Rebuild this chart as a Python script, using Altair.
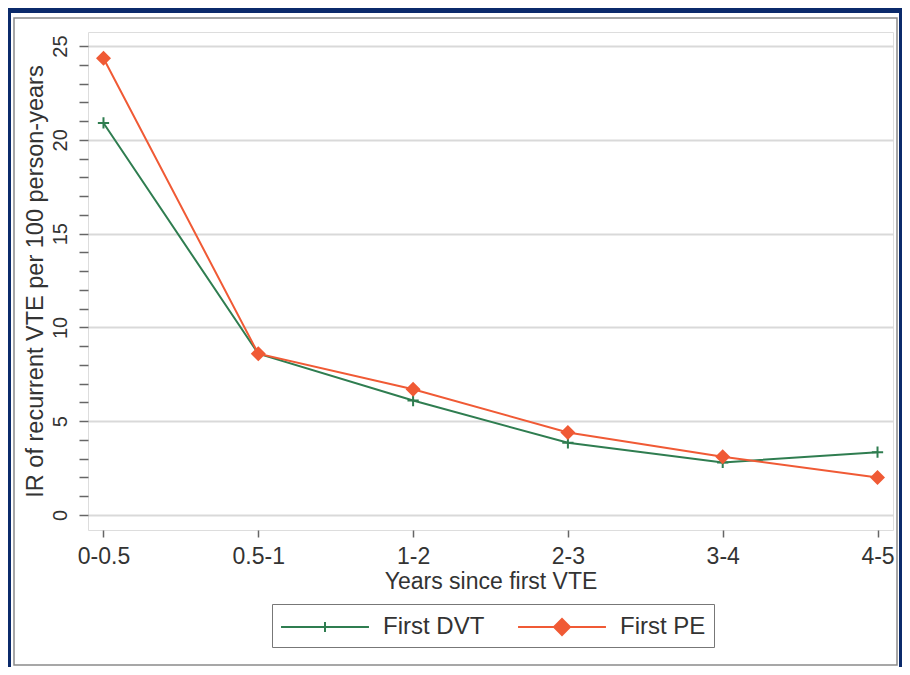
import altair as alt
import pandas as pd

# ---- data ----
periods = ["0-0.5", "0.5-1", "1-2", "2-3", "3-4", "4-5"]
first_dvt = [20.9, 8.6, 6.1, 3.85, 2.8, 3.35]
first_pe = [24.35, 8.6, 6.7, 4.4, 3.1, 2.0]
series_names = ["First DVT", "First PE"]
series_colors = ["#2f7d50", "#f05a35"]
tick_values = list(range(0, 26))

df = pd.DataFrame({
    "period": periods * 2,
    "value": first_dvt + first_pe,
    "series": [series_names[0]] * len(periods) + [series_names[1]] * len(periods),
})
one_df = pd.DataFrame({"k": [0]})

FONT = "Liberation Sans"
W, H = 805, 498
PAD = {"left": 80, "top": 24, "right": 9, "bottom": 137}
Y_DOMAIN = [-0.8, 25.75]

PLUS = "M-0.75,0H0.75M0,-0.75V0.75"
LEG_DVT = "M-3.14,0H3.14M0,-0.36V0.36"
LEG_PE = "M-3.14,0H3.14M-0.57,0L0,-0.57L0.57,0L0,0.57Z"

legend = alt.Legend(
    title=None,
    orient="none",
    legendX=184,
    legendY=572,
    direction="horizontal",
    symbolSize=784,
    symbolOffset=30,
    symbolStrokeWidth=2,
    labelOffset=43,
    columnPadding=29,
    padding=8,
    strokeColor="#777",
    labelFont=FONT,
    labelFontSize=24,
    labelColor="#333",
)

x_enc = alt.X(
    "period:N",
    sort=periods,
    scale=alt.Scale(type="point", domain=periods, padding=0.1),
    axis=alt.Axis(
        title="Years since first VTE",
        labelAngle=0,
        labelFont=FONT,
        labelFontSize=23,
        labelColor="#333",
        titleFont=FONT,
        titleFontSize=23,
        titleFontWeight="normal",
        titleColor="#333",
        tickSize=7,
        tickColor="#666",
        tickWidth=1.5,
        labelPadding=8,
        titlePadding=2,
        domain=False,
        grid=False,
    ),
)
y_enc = alt.Y(
    "value:Q",
    scale=alt.Scale(domain=Y_DOMAIN, nice=False, zero=False),
    axis=alt.Axis(
        title="IR of recurrent VTE per 100 person-years",
        values=tick_values,
        labelExpr="datum.value % 5 === 0 ? datum.label : ''",
        labelAngle=-90,
        labelAlign="center",
        labelBaseline="bottom",
        labelOverlap=False,
        labelFlush=False,
        labelFont=FONT,
        labelFontSize=20,
        labelColor="#333",
        labelPadding=9,
        titleFont=FONT,
        titleFontSize=23.5,
        titleFontWeight="normal",
        titleColor="#333",
        titlePadding=3,
        tickSize=9,
        tickColor="#666",
        tickWidth=1.5,
        domain=False,
        grid=True,
        gridColor="#d9d9d9",
        gridWidth=2,
        gridOpacity={"condition": {"test": "datum.value % 5 === 0", "value": 1}, "value": 0},
    ),
)

# decorative frame (navy strips and gray panel outline)
navy = "#0b2a6b"
top_band = alt.Chart(one_df).mark_rect(color=navy).encode(
    x=alt.value(-80), x2=alt.value(814), y=alt.value(-24), y2=alt.value(-19)
)
left_band = alt.Chart(one_df).mark_rect(color=navy).encode(
    x=alt.value(-80), x2=alt.value(-77), y=alt.value(-24), y2=alt.value(635)
)
right_band = alt.Chart(one_df).mark_rect(color=navy).encode(
    x=alt.value(811), x2=alt.value(814), y=alt.value(-24), y2=alt.value(635)
)
panel = alt.Chart(one_df).mark_rect(filled=False, stroke="#8a8a8a", strokeWidth=1.5).encode(
    x=alt.value(-74), x2=alt.value(809), y=alt.value(-14), y2=alt.value(633)
)

base = alt.Chart(df)
dvt_line = base.transform_filter(alt.datum.series == series_names[0]).mark_line(
    color=series_colors[0], strokeWidth=2).encode(x=x_enc, y=y_enc)
pe_line = base.transform_filter(alt.datum.series == series_names[1]).mark_line(
    color=series_colors[1], strokeWidth=2).encode(x=x_enc, y=y_enc)
dvt_pts = base.transform_filter(alt.datum.series == series_names[0]).mark_point(
    shape=PLUS, size=225, filled=False, stroke=series_colors[0], strokeWidth=2, opacity=1
).encode(x=x_enc, y=y_enc)
pe_pts = base.transform_filter(alt.datum.series == series_names[1]).mark_point(
    shape="diamond", size=225, filled=True, fill=series_colors[1], opacity=1
).encode(x=x_enc, y=y_enc)

# legend-only layer (no rows drawn); symbols come from the scales below
legend_layer = base.transform_filter("false").mark_point(filled=True, strokeWidth=2, opacity=1).encode(
    color=alt.Color("series:N", scale=alt.Scale(domain=series_names, range=series_colors), legend=legend),
    stroke=alt.Stroke("series:N", scale=alt.Scale(domain=series_names, range=series_colors), legend=legend),
    shape=alt.Shape("series:N", scale=alt.Scale(domain=series_names, range=[LEG_DVT, LEG_PE]), legend=legend),
)

chart = (
    alt.layer(top_band, left_band, right_band, panel,
              dvt_line, pe_line, dvt_pts, pe_pts, legend_layer)
    .properties(width=W, height=H, padding=PAD, autosize=alt.AutoSizeParams(type="none"))
    .configure_view(stroke="#666", strokeWidth=2)
    .configure(background="white")
)

chart.save("out.html", embed_options={"renderer": "svg", "actions": False})
